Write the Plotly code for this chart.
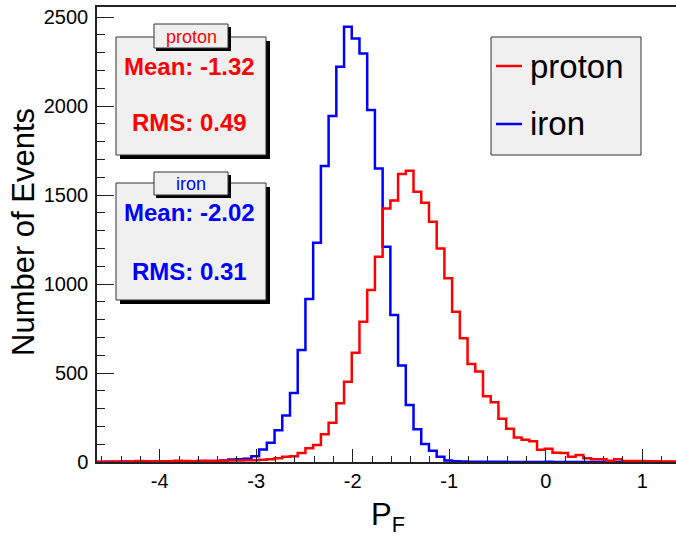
import plotly.graph_objects as go

# ---------------- data ----------------
BIN_START = -4.65
BIN_WIDTH = 0.08

proton_counts = [2, 2, 3, 2, 3, 6, 4, 3, 3, 4,
                 7, 5, 4, 7, 5, 5, 8, 8, 9, 10,
                 10, 12, 15, 21, 30, 32, 50, 77, 96, 156,
                 221, 330, 451, 614, 788, 966, 1153, 1425, 1470, 1618,
                 1637, 1519, 1457, 1350, 1200, 1032, 844, 695, 551, 508,
                 369, 336, 243, 187, 137, 125, 116, 69, 75, 52,
                 50, 30, 39, 21, 15, 15, 7, 15, 6, 5,
                 5, 4, 4, 3, 3]

iron_counts = [0, 1, 0, 3, 1, 2, 2, 3, 3, 1,
               2, 3, 4, 4, 5, 6, 8, 14, 16, 18,
               32, 70, 108, 178, 262, 388, 629, 916, 1232, 1663,
               1944, 2221, 2446, 2380, 2296, 1978, 1650, 1210, 826, 543,
               320, 184, 101, 63, 30, 8, 4, 3, 2, 2,
               1, 1, 1, 0, 0, 0, 0, 0, 1, 0,
               0, 0, 0, 0, 0, 0, 0, 0, 0, 0,
               0, 0, 0, 0, 0]

series_names = ["proton", "iron"]
series_colors = ["#ff0000", "#0000ff"]
stat_mean = ["-1.32", "-2.02"]
stat_rms = ["0.49", "0.31"]

x_tick_values = [-4, -3, -2, -1, 0, 1]
x_tick_labels = ["-4", "-3", "-2", "-1", "0", "1"]
y_tick_values = [0, 500, 1000, 1500, 2000, 2500]
y_tick_labels = ["0", "500", "1000", "1500", "2000", "2500"]

x_range = [-4.65, 1.35]
y_range = [0, 2557]

# ---------------- layout geometry (pixels) ----------------
W_IMG, H_IMG = 676, 539
PL, PR, PT, PB = 97, 676, 7, 462
PW, PH = PR - PL, PB - PT

def fx(x):
    return (x - PL) / PW

def fy(y):
    return (PB - y) / PH

FONT = "Liberation Sans, Arial, Helvetica, sans-serif"
AXC = "#222222"


def step_xy(counts):
    n = len(counts)
    xs = [BIN_START + BIN_WIDTH * i for i in range(n + 1)]
    ys = list(counts) + [counts[-1]]
    return xs, ys


fig = go.Figure()
for name, counts, col in [("iron", iron_counts, series_colors[1]),
                          ("proton", proton_counts, series_colors[0])]:
    xs, ys = step_xy(counts)
    fig.add_trace(go.Scatter(x=xs, y=ys, mode="lines", name=name,
                             line=dict(color=col, width=2.5, shape="hv"),
                             showlegend=False, hoverinfo="skip"))

shapes = []
annotations = []


def rect(x0, y0, x1, y1, fill, line_col=None, lw=1):
    shapes.append(dict(type="rect", xref="paper", yref="paper", layer="above",
                       x0=fx(x0), x1=fx(x1), y0=fy(y1), y1=fy(y0),
                       fillcolor=fill,
                       line=dict(color=line_col if line_col else fill,
                                 width=lw if line_col else 0)))


def text(x, y, s, size, color, xanchor="center", bold=False):
    annotations.append(dict(xref="paper", yref="paper", x=fx(x), y=fy(y),
                            text=("<b>%s</b>" % s) if bold else s,
                            showarrow=False, xanchor=xanchor, yanchor="middle",
                            font=dict(family=FONT, size=size, color=color)))


# stat boxes
boxes = [(37, 155, 24, 48, 66, 123), (183, 300, 172, 195, 213, 272)]
for i, (by0, by1, ty0, ty1, ymean, yrms) in enumerate(boxes):
    rect(120, by0 + 4, 270, by1 + 4, "#000000")
    rect(116, by0, 266, by1, "#f0f0f0", "#333333", 1)
    rect(156, ty0 + 3, 231, ty1 + 3, "#000000")
    rect(154, ty0, 228, ty1, "#f0f0f0", "#333333", 1)
    text(191, (ty0 + ty1) / 2 + 1, series_names[i], 18, series_colors[i])
    text(189, ymean, "Mean: " + stat_mean[i], 24, series_colors[i], bold=True)
    text(189, yrms, "RMS: " + stat_rms[i], 24, series_colors[i], bold=True)

# legend
rect(491, 37, 641, 155, "#f0f0f0", "#333333", 1)
for i, yy in enumerate([66, 124]):
    shapes.append(dict(type="line", xref="paper", yref="paper", layer="above",
                       x0=fx(496), x1=fx(522), y0=fy(yy), y1=fy(yy),
                       line=dict(color=series_colors[i], width=2.5)))
    text(528, yy, series_names[i], 33, "#000000", xanchor="left")

# axis titles
annotations.append(dict(xref="paper", yref="paper", x=fx(23), y=fy(232),
                        text="Number of Events", textangle=-90, showarrow=False,
                        xanchor="center", yanchor="middle",
                        font=dict(family=FONT, size=31, color="#000000")))
annotations.append(dict(xref="paper", yref="paper", x=fx(388), y=fy(517),
                        text="P<sub>F</sub>", showarrow=False,
                        xanchor="center", yanchor="middle",
                        font=dict(family=FONT, size=31, color="#000000")))

fig.update_layout(
    width=W_IMG, height=H_IMG, autosize=False,
    margin=dict(l=PL, r=W_IMG - PR, t=PT, b=H_IMG - PB, pad=0),
    paper_bgcolor="white", plot_bgcolor="white",
    shapes=shapes, annotations=annotations,
    showlegend=False,
    xaxis=dict(range=x_range, tickmode="array", tickvals=x_tick_values,
               ticktext=x_tick_labels, ticks="inside", ticklen=13,
               tickwidth=1.3, tickcolor=AXC, showgrid=False, zeroline=False,
               showline=True, linecolor=AXC, linewidth=1.5, mirror=True,
               tickfont=dict(family=FONT, size=20, color="#000000"),
               ticklabelstandoff=0,
               minor=dict(dtick=0.2, tick0=0, ticks="inside", ticklen=6.5,
                          tickwidth=1.2, tickcolor=AXC, showgrid=False)),
    yaxis=dict(range=y_range, tickmode="array", tickvals=y_tick_values,
               ticktext=y_tick_labels, ticks="inside", ticklen=17,
               tickwidth=1.3, tickcolor=AXC, showgrid=False, zeroline=False,
               showline=True, linecolor=AXC, linewidth=1.5,
               tickfont=dict(family=FONT, size=20, color="#000000"),
               ticklabelstandoff=3,
               minor=dict(dtick=100, tick0=0, ticks="inside", ticklen=8.5,
                          tickwidth=1.2, tickcolor=AXC, showgrid=False)),
)

fig.write_html("out.html")
